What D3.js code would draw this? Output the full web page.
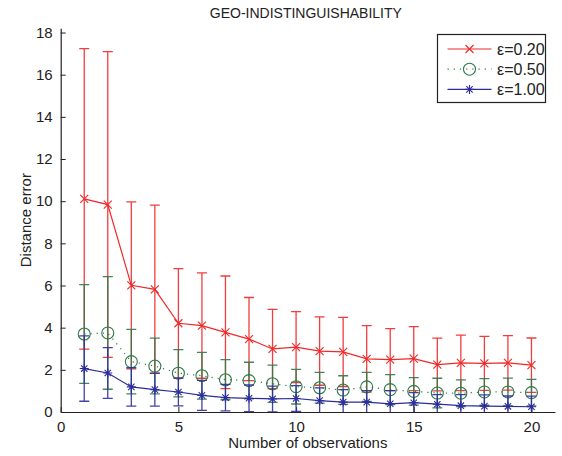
<!DOCTYPE html>
<html>
<head>
<meta charset="utf-8">
<script src="https://cdn.jsdelivr.net/npm/d3@7"></script>
<style>
  html, body { margin: 0; padding: 0; background: #fff; }
  svg { display: block; font-family: "Liberation Sans", Arial, Helvetica, sans-serif; }
</style>
</head>
<body>
<svg id="chart" width="562" height="456"></svg>
<script>
// Number of observations
const observations = [1,2,3,4,5,6,7,8,9,10,11,12,13,14,15,16,17,18,19,20];

// Mean distance error per privacy level
const meanEps020 = [10.11,9.84,6.01,5.82,4.21,4.10,3.78,3.46,2.99,3.08,2.89,2.85,2.52,2.48,2.53,2.25,2.33,2.31,2.33,2.22];
const meanEps050 = [3.70,3.75,2.39,2.18,1.84,1.72,1.53,1.49,1.34,1.20,1.15,1.04,1.19,1.06,0.98,0.90,0.89,0.95,0.95,0.92];
const meanEps100 = [2.06,1.85,1.19,1.06,0.95,0.79,0.68,0.65,0.62,0.64,0.54,0.47,0.47,0.39,0.44,0.37,0.30,0.28,0.27,0.25];

// Standard deviation (error bar half-length) per privacy level
const stdEps020 = [7.13,7.25,3.96,3.99,2.59,2.50,2.67,1.97,1.88,1.68,1.62,1.64,1.58,1.47,1.52,1.25,1.32,1.28,1.29,1.29];
const stdEps050 = [2.34,2.67,1.53,1.32,1.12,1.11,0.95,0.87,0.88,0.82,0.73,0.68,0.69,0.71,0.65,0.70,0.63,0.63,0.66,0.63];
const stdEps100 = [1.55,1.20,0.91,0.78,0.66,0.71,0.63,0.63,0.61,0.61,0.60,0.59,0.54,0.62,0.48,0.45,0.52,0.53,0.49,0.50];

const seriesLabels = ["\u03b5=0.20", "\u03b5=0.50", "\u03b5=1.00"];
const xTicks = [0, 5, 10, 15, 20];
const yTicks = [0, 2, 4, 6, 8, 10, 12, 14, 16, 18];

const series = [
  { label: seriesLabels[0], mean: meanEps020, std: stdEps020, color: "#f02828", marker: "x",    dash: null },
  { label: seriesLabels[1], mean: meanEps050, std: stdEps050, color: "#2e7a48", marker: "o",    dash: "1.2,5" },
  { label: seriesLabels[2], mean: meanEps100, std: stdEps100, color: "#2c2c9c", marker: "star", dash: null }
];

const svg = d3.select("#chart");
const margin = { left: 60.7, right: 7, top: 28.3, bottom: 44 };
const W = 562, H = 456;

const x = d3.scaleLinear().domain([0, 21]).range([margin.left, W - margin.right]);
const y = d3.scaleLinear().domain([0, 18.2]).range([H - margin.bottom, margin.top]);

svg.append("defs").append("clipPath").attr("id", "plotclip")
  .append("rect")
  .attr("x", x(0)).attr("y", y(18.2))
  .attr("width", x(21) - x(0)).attr("height", y(0) - y(18.2));

// Axes with inward ticks
const xAxis = d3.axisBottom(x).tickValues(xTicks).tickSizeInner(-5).tickSizeOuter(0).tickPadding(9);
const yAxis = d3.axisLeft(y).tickValues(yTicks).tickSizeInner(-5).tickSizeOuter(0).tickPadding(8);

const gx = svg.append("g").attr("transform", `translate(0,${y(0)})`).call(xAxis);
const gy = svg.append("g").attr("transform", `translate(${x(0)},0)`).call(yAxis);
[gx, gy].forEach(g => {
  g.select(".domain").attr("stroke", "#222").attr("stroke-width", 1.2);
  g.selectAll(".tick line").attr("stroke", "#222").attr("stroke-width", 1);
  g.selectAll(".tick text").attr("fill", "#222").style("font-size", "15px")
    .style("font-family", "'Liberation Sans', Arial, sans-serif");
});

const plot = svg.append("g").attr("clip-path", "url(#plotclip)");

function drawMarker(g, type, cx, cy, color) {
  if (type === "x") {
    const s = 4;
    g.append("path").attr("d", `M${cx - s},${cy - s}L${cx + s},${cy + s}M${cx - s},${cy + s}L${cx + s},${cy - s}`)
      .attr("stroke", color).attr("stroke-width", 1.1).attr("fill", "none");
  } else if (type === "o") {
    g.append("circle").attr("cx", cx).attr("cy", cy).attr("r", 6)
      .attr("stroke", color).attr("stroke-width", 1.1).attr("fill", "none");
  } else {
    const s = 4.5;
    const d = s * 0.7071;
    g.append("path").attr("d",
      `M${cx - s},${cy}L${cx + s},${cy}M${cx},${cy - s}L${cx},${cy + s}` +
      `M${cx - d},${cy - d}L${cx + d},${cy + d}M${cx - d},${cy + d}L${cx + d},${cy - d}`)
      .attr("stroke", color).attr("stroke-width", 1.1).attr("fill", "none");
  }
}

const whisker = 5;
series.forEach(s => {
  const g = plot.append("g");
  // error bars
  observations.forEach((o, i) => {
    const cx = x(o);
    const lo = y(s.mean[i] - s.std[i]);
    const hi = y(s.mean[i] + s.std[i]);
    g.append("path")
      .attr("d", `M${cx},${lo}L${cx},${hi}M${cx - whisker},${lo}L${cx + whisker},${lo}M${cx - whisker},${hi}L${cx + whisker},${hi}`)
      .attr("stroke", s.color).attr("stroke-width", 1.3).attr("fill", "none").attr("opacity", 0.9);
  });
  // mean line
  const line = d3.line().x((d, i) => x(observations[i])).y(d => y(d));
  g.append("path").datum(s.mean).attr("d", line)
    .attr("stroke", s.color).attr("stroke-width", 1.2).attr("fill", "none")
    .attr("stroke-dasharray", s.dash);
  // markers
  observations.forEach((o, i) => drawMarker(g, s.marker, x(o), y(s.mean[i]), s.color));
});

// Title
svg.append("text").attr("x", (x(0) + x(21)) / 2 - 2).attr("y", 18)
  .attr("text-anchor", "middle").attr("fill", "#222").style("font-size", "14px")
  .text("GEO-INDISTINGUISHABILITY");

// Axis labels
svg.append("text").attr("x", (x(0) + x(21)) / 2).attr("y", 448)
  .attr("text-anchor", "middle").attr("fill", "#222").style("font-size", "15px")
  .text("Number of observations");
svg.append("text").attr("transform", `translate(31,${(y(0) + y(18.2)) / 2}) rotate(-90)`)
  .attr("text-anchor", "middle").attr("fill", "#222").style("font-size", "15px")
  .text("Distance error");

// Legend
const lg = svg.append("g");
lg.append("rect").attr("x", 437.5).attr("y", 34.5).attr("width", 108).attr("height", 68)
  .attr("fill", "#fff").attr("stroke", "#222").attr("stroke-width", 1.2);
series.forEach((s, i) => {
  const ly = 49 + i * 20.2;
  lg.append("line").attr("x1", 447.5).attr("x2", 491.5).attr("y1", ly).attr("y2", ly)
    .attr("stroke", s.color).attr("stroke-width", 1.2).attr("stroke-dasharray", s.dash);
  drawMarker(lg, s.marker, 469.5, ly, s.color);
  lg.append("text").attr("x", 497).attr("y", ly + 5.5).attr("fill", "#222")
    .style("font-size", "16px").text(s.label);
});
</script>
</body>
</html>
